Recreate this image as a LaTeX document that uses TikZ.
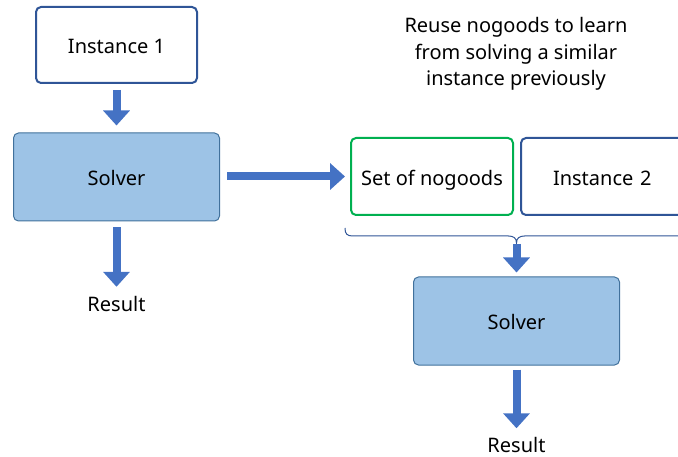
\documentclass[tikz,border=0pt]{standalone}
\usepackage{fontspec}
\setmainfont{Noto Sans}
\usetikzlibrary{arrows.meta}
\definecolor{boxblue}{HTML}{2F5597}
\definecolor{solverfill}{HTML}{9DC3E6}
\definecolor{solverline}{HTML}{41719C}
\definecolor{goodgreen}{HTML}{00B050}
\definecolor{arrowblue}{HTML}{4472C4}
\tikzset{
  txt/.style={font=\fontsize{20}{24}\selectfont, text height=22pt, text depth=4pt},
  inbox/.style={txt, draw=boxblue, line width=2pt, rounded corners=5pt, fill=white,
    minimum width=161pt, minimum height=76pt},
  nogoodbox/.style={inbox, draw=goodgreen, minimum width=162pt, minimum height=77pt},
  solverbox/.style={txt, draw=solverline, line width=1pt, fill=solverfill, rounded corners=5pt,
    minimum width=206pt, minimum height=88pt},
  label/.style={font=\fontsize{20}{24}\selectfont, text height=18pt, text depth=0pt, inner sep=0pt},
  blockarrow/.style={draw=arrowblue, line width=8pt,
    -{Triangle[width=26pt,length=15pt]}, arrowblue},
}
\begin{document}
\begin{tikzpicture}[x=1pt,y=-1pt]
\useasboundingbox (0,0) rectangle (678,457);

% left column
\node[inbox] (inst1) at (116.5,45) {Instance 1};
\node[solverbox] (solv1) at (116.5,177) {Solver};
\node[label] (res1) at (116.5,303) {Result};

% right column
\node[nogoodbox] (nog) at (432,176.5) {Set of nogoods};
\node[inbox, minimum width=170pt, minimum height=77pt, text width=150pt, align=left] (inst2) at (606,176.5) {\hspace*{22pt}Instance 2};
\node[solverbox] (solv2) at (516.5,321) {Solver};
\node[label] (res2) at (516.5,443.5) {Result};

\node[align=center, font=\fontsize{20}{26.5}\selectfont] (note) at (516,54)
  {Reuse nogoods to learn\\from solving a similar\\instance previously};

% brace under both inputs
\coordinate (btip) at (516.5,243);
\draw[boxblue, line width=1pt]
  (345,228) .. controls (345,234) and (347,236) .. (353,236) -- (508.5,236)
  .. controls (513.5,236) and (516.5,238) .. (btip)
  .. controls (516.5,238) and (519.5,236) .. (524.5,236) -- (680,236);

% flow arrows
\draw[blockarrow, shorten <=6pt, shorten >=7pt] (inst1.south) -- (solv1.north);
\draw[blockarrow, shorten <=6pt, shorten >=7pt] (solv1.south) -- (res1.north);
\draw[blockarrow, shorten <=7pt, shorten >=5pt] (solv1.east |- nog.west) -- (nog.west);
\draw[blockarrow, shorten <=1pt, shorten >=4pt] (btip) -- (solv2.north);
\draw[blockarrow, shorten <=4pt, shorten >=6pt] (solv2.south) -- (res2.north);
\end{tikzpicture}
\end{document}
